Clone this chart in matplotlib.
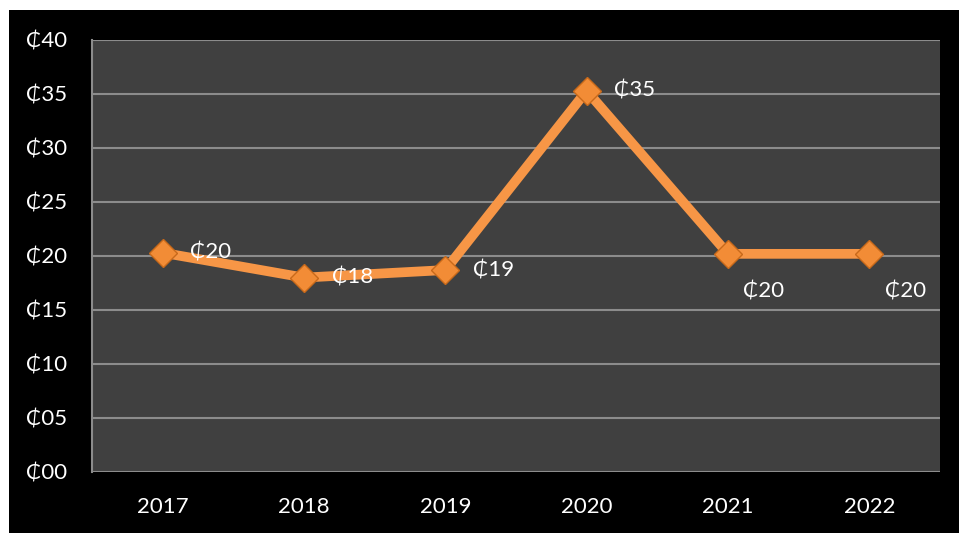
import numpy as np
import matplotlib.pyplot as plt
from matplotlib.patches import Rectangle

# values
years = ['2017', '2018', '2019', '2020', '2021', '2022']
values = [20.3, 18.0, 18.7, 35.3, 20.2, 20.2]
labels = ['₵20', '₵18', '₵19', '₵35', '₵20', '₵20']
yticks = [0, 5, 10, 15, 20, 25, 30, 35, 40]
ytick_labels = ['₵00', '₵05', '₵10', '₵15', '₵20', '₵25', '₵30', '₵35', '₵40']
# where the data label sits: right of the marker or below it
label_side = ['right', 'right', 'right', 'right', 'below', 'below']

plt.rcParams['font.family'] = ['Lato', 'DejaVu Sans']

fig = plt.figure(figsize=(9.59, 5.33), dpi=100)
fig.patch.set_facecolor('white')
# black chart background with the thin white margin top/left
fig.patches.append(Rectangle((9 / 959, 0), 1, 1 - 10 / 533, transform=fig.transFigure,
                             facecolor='black', edgecolor='none', zorder=-5))

ax = fig.add_axes([92 / 959, 1 - 472 / 533, (940 - 92) / 959, (472 - 40) / 533])
ax.set_zorder(2)
ax.set_facecolor('#404040')

x = np.arange(len(years))
ax.plot(x, values, color='#F79646', lw=7, solid_joinstyle='round', zorder=3)
ax.plot(x, values, ls='none', marker='D', ms=14, mfc='#F28C36', mec='#C8691A', mew=1, zorder=4)

for i, (v, lab) in enumerate(zip(values, labels)):
    if label_side[i] == 'right':
        ax.annotate(lab, (x[i], v), xytext=(20, 0), textcoords='offset points',
                    ha='left', va='center', color='white', fontsize=16, zorder=5)
    else:
        ax.annotate(lab, (x[i], v), xytext=(11, -27), textcoords='offset points',
                    ha='left', va='center', color='white', fontsize=16, zorder=5)

ax.set_xlim(-0.5, len(years) - 0.5)
ax.set_ylim(0, 40)
ax.set_yticks(yticks)
ax.set_yticklabels(ytick_labels)
ax.set_xticks(x)
ax.set_xticklabels(years)
ax.tick_params(axis='both', length=0, colors='white', labelsize=16)
ax.tick_params(axis='y', pad=18)
ax.tick_params(axis='x', pad=18)
ax.grid(axis='y', color='#8C8C8C', lw=1.5, zorder=1)
ax.set_axisbelow(True)

for s in ['top', 'right', 'bottom']:
    ax.spines[s].set_visible(False)
ax.spines['left'].set_color('#8C8C8C')
ax.spines['left'].set_linewidth(1.5)

fig.savefig('out.png', dpi=100)
